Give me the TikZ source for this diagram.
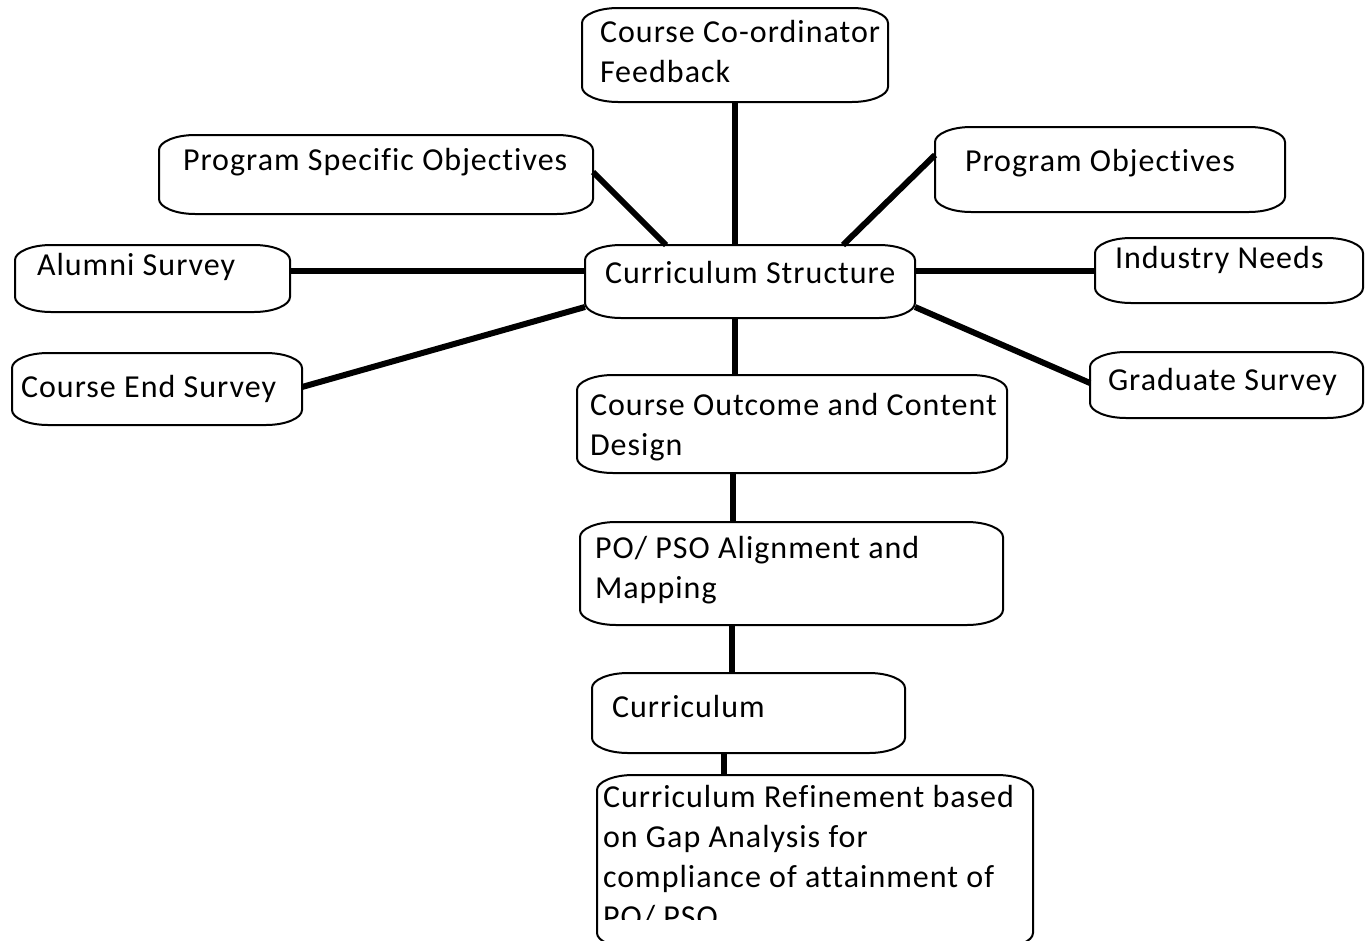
\documentclass[tikz,border=0pt]{standalone}
\usepackage{fontspec}
\setmainfont{Carlito}[LetterSpace=3.2,Ligatures={NoCommon}]
\usetikzlibrary{calc,fit}
\tikzset{
  bx/.style={draw=none, inner sep=0pt, outer sep=0pt},
  boxline/.style={draw=black, line width=2pt},
  lbl/.style={inner sep=0pt, outer sep=0pt, anchor=base west, align=left, text=black,
    font=\fontsize{32}{40}\selectfont},
  conn/.style={draw=black, line width=6pt}
}
\newcommand\pbox[1]{%
  \draw[boxline] ($(#1.north west)+(36,0)$) -- ($(#1.north east)+(-36,0)$)
    .. controls ($(#1.north east)+(-16,0)$) and ($(#1.north east)+(0,7)$) .. ($(#1.north east)+(0,15)$)
    -- ($(#1.south east)+(0,-15)$)
    .. controls ($(#1.south east)+(0,-7)$) and ($(#1.south east)+(-16,0)$) .. ($(#1.south east)+(-36,0)$)
    -- ($(#1.south west)+(36,0)$)
    .. controls ($(#1.south west)+(16,0)$) and ($(#1.south west)+(0,-7)$) .. ($(#1.south west)+(0,-15)$)
    -- ($(#1.north west)+(0,15)$)
    .. controls ($(#1.north west)+(0,7)$) and ($(#1.north west)+(16,0)$) .. cycle;}
\begin{document}
\begin{tikzpicture}[x=1pt,y=-1pt]
\useasboundingbox (0,0) rectangle (1365,940);
\fill[white] (0,0) rectangle (1365,940);
\clip (0,0) rectangle (1365,940);
% boxes
\node[bx, fit={(582,8) (888,102)}] (ccf) {};
\node[bx, fit={(159,135) (593,214)}] (pso) {};
\node[bx, fit={(935,127) (1285,212)}] (po) {};
\node[bx, fit={(15,245) (290,312)}] (alu) {};
\node[bx, fit={(585,245) (915,318)}] (cs) {};
\node[bx, fit={(1095,238) (1363,303)}] (ind) {};
\node[bx, fit={(12,353) (302,425)}] (ces) {};
\node[bx, fit={(1090,352) (1363,418)}] (grad) {};
\node[bx, fit={(577,375) (1007,473)}] (cocd) {};
\node[bx, fit={(580,522) (1003,625)}] (map) {};
\node[bx, fit={(592,673) (905,753)}] (cur) {};
\node[bx, fit={(597,775) (1033,948)}] (ref) {};
\foreach \n in {ccf,pso,po,alu,cs,ind,ces,grad,cocd,map,cur,ref} {\pbox{\n}}
% texts (base anchor = baseline of the last line)
\node[lbl] (ccf-t) at (600,82) {Course Co-ordinator\\Feedback};
\node[lbl] (pso-t) at (183,170) {Program Specific Objectives};
\node[lbl] (po-t) at (965,171) {Program Objectives};
\node[lbl] (alu-t) at (37,275) {Alumni Survey};
\node[lbl] (cs-t) at (605,283) {Curriculum Structure};
\node[lbl] (ind-t) at (1115,268) {Industry Needs};
\node[lbl] (ces-t) at (21,397) {Course End Survey};
\node[lbl] (grad-t) at (1108,390) {Graduate Survey};
\node[lbl] (cocd-t) at (590,455) {Course Outcome and Content\\Design};
\node[lbl] (map-t) at (595,598) {PO/ PSO Alignment and\\Mapping};
\node[lbl] (cur-t) at (612,717) {Curriculum};
\begin{scope}
\clip (0,0) rectangle (1365,919);
\node[lbl] (ref-t) at (603,927) {Curriculum Refinement based\\on Gap Analysis for\\compliance of attainment of\\PO/ PSO};
\end{scope}
% connectors
\draw[conn] (ccf.south) -- (ccf.south |- cs.north);
\draw[conn] ($(pso.north east)+(0,37)$) -- ($(cs.north west)+(81,0)$);
\draw[conn] ($(po.north west)+(0,28)$) -- ($(cs.north west)+(258,0)$);
\draw[conn] ($(alu.north east)+(0,26)$) -- ($(cs.north west)+(0,26)$);
\draw[conn] ($(cs.north east)+(0,26)$) -- ($(ind.north west)+(0,33)$);
\draw[conn] ($(ces.north east)+(0,34)$) -- ($(cs.south west)+(0,-11)$);
\draw[conn] ($(cs.south east)+(0,-11)$) -- ($(grad.north west)+(0,31)$);
\draw[conn] ($(cs.south west)+(150,0)$) -- ($(cocd.north west)+(158,0)$);
\draw[conn] ($(cocd.south west)+(156,0)$) -- ($(map.north west)+(153,0)$);
\draw[conn] ($(map.south west)+(152,0)$) -- ($(cur.north west)+(140,0)$);
\draw[conn] ($(cur.south west)+(132,0)$) -- ($(ref.north west)+(127,0)$);
\end{tikzpicture}
\end{document}
